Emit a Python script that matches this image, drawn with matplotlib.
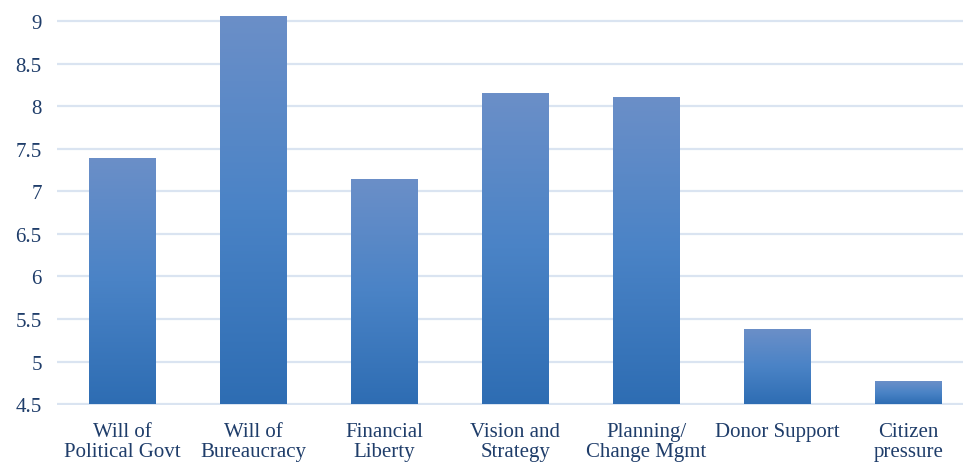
import numpy as np
import matplotlib.pyplot as plt
from matplotlib.colors import LinearSegmentedColormap

categories = ["Will of\nPolitical Govt", "Will of\nBureaucracy", "Financial\nLiberty",
              "Vision and\nStrategy", "Planning/\nChange Mgmt", "Donor Support", "Citizen\npressure"]
scores = [7.39, 9.05, 7.14, 8.15, 8.10, 5.38, 4.76]
yticks = [4.5, 5, 5.5, 6, 6.5, 7, 7.5, 8, 8.5, 9]

plt.rcParams['font.family'] = ['Liberation Serif', 'DejaVu Serif']
txt_col = "#1F3D6A"

fig = plt.figure(figsize=(9.63, 4.64), dpi=100)
ax = fig.add_axes([57/963, 58/464, 917/963, 389/464])

# bar gradient, light at top to darker at base
cmap = LinearSegmentedColormap.from_list("bar", ["#2E6DB3", "#4A83C6", "#6B8FC8"])
grad = np.linspace(0, 1, 256).reshape(-1, 1)
width = 0.51
x = np.arange(len(categories))
base = 4.5
for xi, v in zip(x, scores):
    ax.imshow(grad, cmap=cmap, origin="lower", aspect="auto",
              extent=(xi - width/2, xi + width/2, base, v), zorder=3)

ax.set_xlim(-0.5, len(categories) - 0.5)
ax.set_yticks(yticks)
ax.set_yticklabels([f"{t:g}" for t in yticks])
ax.set_xticks(x)
ax.set_xticklabels(categories, linespacing=1.12)
ax.tick_params(axis="both", length=0, labelsize=15, colors=txt_col)
ax.tick_params(axis="y", pad=11)
ax.tick_params(axis="x", pad=12)
ax.grid(axis="y", color="#DAE4F1", linewidth=1.6, zorder=0)
ax.set_axisbelow(True)
for s in ax.spines.values():
    s.set_visible(False)
ax.set_ylim(4.5 - 0.01, 9.06)

fig.savefig("out.png", dpi=100)
